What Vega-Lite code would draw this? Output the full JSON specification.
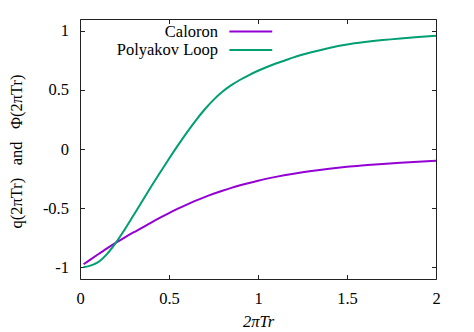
{
  "$schema": "https://vega.github.io/schema/vega-lite/v6.json",
  "width": 356,
  "height": 260,
  "autosize": {"type": "none"},
  "padding": {"left": 80, "top": 19, "right": 38, "bottom": 53},
  "background": "white",
  "config": {
    "view": {"stroke": "#222", "strokeWidth": 1},
    "font": "Liberation Serif, Times New Roman, DejaVu Serif, serif",
    "axis": {"labelFont": "Liberation Serif, Times New Roman, DejaVu Serif, serif", "titleFont": "Liberation Serif, Times New Roman, DejaVu Serif, serif", "labelFontSize": 16.5, "titleFontSize": 16.5, "labelColor": "black", "titleColor": "black", "titleFontWeight": "normal", "grid": false, "domain": false, "tickColor": "#222", "tickSize": -4.5},
    "legend": {"labelFont": "Liberation Serif, Times New Roman, DejaVu Serif, serif"}
  },
  "data": {"values": [
    {"x": 0.02, "y": -0.975, "s": "Caloron"},
    {"x": 0.05, "y": -0.944, "s": "Caloron"},
    {"x": 0.1, "y": -0.893, "s": "Caloron"},
    {"x": 0.15, "y": -0.843, "s": "Caloron"},
    {"x": 0.2, "y": -0.795, "s": "Caloron"},
    {"x": 0.25, "y": -0.749, "s": "Caloron"},
    {"x": 0.3, "y": -0.706, "s": "Caloron"},
    {"x": 0.35, "y": -0.665, "s": "Caloron"},
    {"x": 0.4, "y": -0.622, "s": "Caloron"},
    {"x": 0.45, "y": -0.581, "s": "Caloron"},
    {"x": 0.5, "y": -0.542, "s": "Caloron"},
    {"x": 0.55, "y": -0.505, "s": "Caloron"},
    {"x": 0.6, "y": -0.47, "s": "Caloron"},
    {"x": 0.65, "y": -0.437, "s": "Caloron"},
    {"x": 0.7, "y": -0.407, "s": "Caloron"},
    {"x": 0.75, "y": -0.379, "s": "Caloron"},
    {"x": 0.8, "y": -0.353, "s": "Caloron"},
    {"x": 0.85, "y": -0.329, "s": "Caloron"},
    {"x": 0.9, "y": -0.307, "s": "Caloron"},
    {"x": 0.95, "y": -0.287, "s": "Caloron"},
    {"x": 1.0, "y": -0.268, "s": "Caloron"},
    {"x": 1.1, "y": -0.236, "s": "Caloron"},
    {"x": 1.2, "y": -0.209, "s": "Caloron"},
    {"x": 1.3, "y": -0.186, "s": "Caloron"},
    {"x": 1.4, "y": -0.167, "s": "Caloron"},
    {"x": 1.5, "y": -0.151, "s": "Caloron"},
    {"x": 1.6, "y": -0.138, "s": "Caloron"},
    {"x": 1.7, "y": -0.126, "s": "Caloron"},
    {"x": 1.8, "y": -0.116, "s": "Caloron"},
    {"x": 1.9, "y": -0.107, "s": "Caloron"},
    {"x": 2.0, "y": -0.099, "s": "Caloron"},
    {"x": 0.02, "y": -0.998, "s": "Polyakov Loop"},
    {"x": 0.05, "y": -0.991, "s": "Polyakov Loop"},
    {"x": 0.1, "y": -0.96, "s": "Polyakov Loop"},
    {"x": 0.15, "y": -0.892, "s": "Polyakov Loop"},
    {"x": 0.2, "y": -0.797, "s": "Polyakov Loop"},
    {"x": 0.25, "y": -0.684, "s": "Polyakov Loop"},
    {"x": 0.3, "y": -0.563, "s": "Polyakov Loop"},
    {"x": 0.35, "y": -0.44, "s": "Polyakov Loop"},
    {"x": 0.4, "y": -0.318, "s": "Polyakov Loop"},
    {"x": 0.45, "y": -0.199, "s": "Polyakov Loop"},
    {"x": 0.5, "y": -0.082, "s": "Polyakov Loop"},
    {"x": 0.55, "y": 0.031, "s": "Polyakov Loop"},
    {"x": 0.6, "y": 0.139, "s": "Polyakov Loop"},
    {"x": 0.65, "y": 0.241, "s": "Polyakov Loop"},
    {"x": 0.7, "y": 0.334, "s": "Polyakov Loop"},
    {"x": 0.75, "y": 0.416, "s": "Polyakov Loop"},
    {"x": 0.8, "y": 0.484, "s": "Polyakov Loop"},
    {"x": 0.85, "y": 0.54, "s": "Polyakov Loop"},
    {"x": 0.9, "y": 0.586, "s": "Polyakov Loop"},
    {"x": 0.95, "y": 0.626, "s": "Polyakov Loop"},
    {"x": 1.0, "y": 0.662, "s": "Polyakov Loop"},
    {"x": 1.05, "y": 0.694, "s": "Polyakov Loop"},
    {"x": 1.1, "y": 0.723, "s": "Polyakov Loop"},
    {"x": 1.15, "y": 0.749, "s": "Polyakov Loop"},
    {"x": 1.2, "y": 0.775, "s": "Polyakov Loop"},
    {"x": 1.3, "y": 0.818, "s": "Polyakov Loop"},
    {"x": 1.4, "y": 0.855, "s": "Polyakov Loop"},
    {"x": 1.5, "y": 0.884, "s": "Polyakov Loop"},
    {"x": 1.6, "y": 0.905, "s": "Polyakov Loop"},
    {"x": 1.7, "y": 0.922, "s": "Polyakov Loop"},
    {"x": 1.8, "y": 0.936, "s": "Polyakov Loop"},
    {"x": 1.9, "y": 0.948, "s": "Polyakov Loop"},
    {"x": 2.0, "y": 0.958, "s": "Polyakov Loop"}
  ]},
  "layer": [
    {
      "mark": {"type": "line", "strokeWidth": 2, "interpolate": "monotone"},
      "encoding": {
        "x": {"field": "x", "type": "quantitative", "scale": {"domain": [0, 2], "nice": false, "zero": false},
              "axis": {"orient": "bottom", "values": [0, 0.5, 1, 1.5, 2], "labelExpr": "'' + datum.value", "labelPadding": 15.5, "labelFlush": false,
                       "title": "2πTr", "titleX": 178, "titleY": 47, "titleBaseline": "alphabetic", "titleFontStyle": "italic"}},
        "y": {"field": "y", "type": "quantitative", "scale": {"domain": [-1.1, 1.1], "nice": false, "zero": false},
              "axis": {"orient": "left", "values": [-1, -0.5, 0, 0.5, 1], "labelExpr": "'' + datum.value", "labelPadding": 16, "labelFlush": false,
                       "title": "q(2πTr)\u00a0\u00a0 and\u00a0\u00a0 Φ(2πTr)", "titleAngle": -90, "titleX": -64, "titleY": 132, "titleAlign": "center", "titleBaseline": "middle"}},
        "color": {"field": "s", "type": "nominal", "sort": ["Caloron", "Polyakov Loop"],
                  "scale": {"domain": ["Caloron", "Polyakov Loop"], "range": ["#9400d3", "#009e73"]},
                  "legend": {"title": null, "orient": "none", "legendX": 162.3, "legendY": 4, "padding": 0,
                             "symbolType": "M-3,0L3,0", "symbolSize": 204, "symbolStrokeWidth": 2,
                             "labelAlign": "right", "labelOffset": -41.3, "labelFont": "Liberation Serif, Times New Roman, DejaVu Serif, serif", "labelFontSize": 16.5, "labelColor": "black",
                             "rowPadding": 1.5, "labelLimit": 300}}
      }
    },
    {
      "mark": {"type": "point", "opacity": 0},
      "encoding": {
        "x": {"field": "x", "type": "quantitative", "axis": {"orient": "top", "values": [0, 0.5, 1, 1.5, 2], "labels": false, "title": null}},
        "y": {"field": "y", "type": "quantitative", "axis": {"orient": "right", "values": [-1, -0.5, 0, 0.5, 1], "labels": false, "title": null}}
      }
    }
  ],
  "resolve": {"axis": {"x": "independent", "y": "independent"}}
}
